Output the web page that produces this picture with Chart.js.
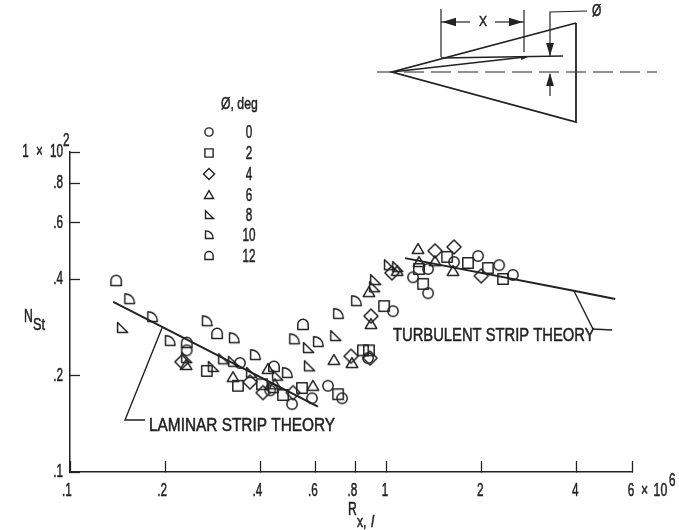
<!DOCTYPE html>
<html>
<head>
<meta charset="utf-8">
<script src="https://cdn.jsdelivr.net/npm/chart.js@4/dist/chart.umd.js"></script>
<style>
    body { margin: 0; background: #fff; }
    canvas { display: block; filter: blur(0.45px); }
</style>
</head>
<body>
<canvas id="stantonChart" width="679" height="530"></canvas>
<script>
// Axis ticks
const xTicks = [0.1, 0.2, 0.4, 0.6, 0.8, 1, 2, 4, 6];
const xTickLabels = [".1", ".2", ".4", ".6", ".8", "1", "2", "4", "6"];
const yTicks = [0.1, 0.2, 0.4, 0.6, 0.8, 1];
const yTickLabels = [".1", ".2", ".4", ".6", ".8", "1 \u00d7 10"];

// Sweep angles in the legend
const angles = ["0", "2", "4", "6", "8", "10", "12"];
const markers = ["circle", "square", "diamond", "triangle", "wedge", "dee", "dome"];

// Measured points, x is R(x,l) in units of 10^6, y is NSt in units of 10^2
const x0 = [0.234, 0.345, 0.43, 0.504, 0.583, 0.655, 0.726, 1.052, 0.877, 1.217, 1.358, 1.358, 1.641, 1.955, 2.28, 2.52];
const y0 = [0.24, 0.219, 0.18, 0.163, 0.17, 0.186, 0.17, 0.318, 0.227, 0.406, 0.431, 0.362, 0.453, 0.473, 0.443, 0.413];
const x2 = [0.271, 0.34, 0.405, 0.472, 0.542, 0.705, 0.845, 0.883, 0.986, 1.271, 1.31, 1.56, 1.816, 2.1, 2.345];
const y2 = [0.207, 0.186, 0.188, 0.174, 0.183, 0.175, 0.24, 0.24, 0.33, 0.431, 0.387, 0.47, 0.45, 0.434, 0.401];
const x4 = [0.226, 0.371, 0.408, 0.508, 0.775, 0.89, 0.896, 1.044, 1.429, 1.641, 2.0];
const y4 = [0.221, 0.191, 0.177, 0.177, 0.23, 0.227, 0.307, 0.419, 0.491, 0.505, 0.41];
const x6 = [0.233, 0.328, 0.423, 0.445, 0.587, 0.684, 0.78, 0.883, 0.896, 1.084, 1.262, 1.271, 1.429, 1.629];
const y6 = [0.216, 0.198, 0.21, 0.188, 0.186, 0.224, 0.219, 0.365, 0.29, 0.425, 0.498, 0.453, 0.456, 0.425];
const x8 = [0.146, 0.233, 0.283, 0.305, 0.328, 0.374, 0.452, 0.566, 0.57, 0.69, 0.923, 0.916, 1.021, 1.084];
const y8 = [0.282, 0.227, 0.213, 0.225, 0.221, 0.204, 0.2, 0.244, 0.214, 0.266, 0.398, 0.378, 0.443, 0.437];
const x10 = [0.154, 0.182, 0.207, 0.271, 0.33, 0.385, 0.439, 0.486, 0.512, 0.609, 0.705, 0.804];
const y10 = [0.347, 0.305, 0.257, 0.296, 0.262, 0.232, 0.183, 0.204, 0.26, 0.255, 0.312, 0.342];
const x12 = [0.14, 0.234, 0.292, 0.442, 0.546];
const y12 = [0.395, 0.253, 0.27, 0.213, 0.288];

// Strip theory curves
const laminarX = [0.137, 0.609];
const laminarY = [0.34, 0.16];
const turbulentX = [1.148, 3.96, 5.31];
const turbulentY = [0.466, 0.368, 0.347];

const ink = "#222";
const labelFont = '"Liberation Sans", sans-serif';

function pairs(xs, ys) {
    return xs.map((x, i) => ({ x: x, y: ys[i] }));
}

// Draws one marker outline centred on cx, cy
function traceMarker(ctx, kind, cx, cy, r) {
    ctx.beginPath();
    if (kind === "circle") {
        ctx.arc(cx, cy, r, 0, Math.PI * 2);
    } else if (kind === "square") {
        ctx.rect(cx - r, cy - r, r * 2, r * 2);
    } else if (kind === "diamond") {
        ctx.moveTo(cx, cy - r * 1.35);
        ctx.lineTo(cx + r * 1.35, cy);
        ctx.lineTo(cx, cy + r * 1.35);
        ctx.lineTo(cx - r * 1.35, cy);
        ctx.closePath();
    } else if (kind === "triangle") {
        ctx.moveTo(cx, cy - r * 1.05);
        ctx.lineTo(cx + r * 1.1, cy + r * 0.85);
        ctx.lineTo(cx - r * 1.1, cy + r * 0.85);
        ctx.closePath();
    } else if (kind === "wedge") {
        ctx.moveTo(cx - r * 0.85, cy - r * 1.05);
        ctx.lineTo(cx + r * 1.1, cy + r * 0.85);
        ctx.lineTo(cx - r * 0.85, cy + r * 0.85);
        ctx.closePath();
    } else if (kind === "dee") {
        ctx.moveTo(cx - r * 0.85, cy - r);
        ctx.bezierCurveTo(cx + r * 0.3, cy - r, cx + r, cy - r * 0.2, cx + r, cy + r * 0.85);
        ctx.lineTo(cx - r * 0.85, cy + r * 0.85);
        ctx.closePath();
    } else if (kind === "dome") {
        ctx.moveTo(cx - r, cy + r * 0.85);
        ctx.lineTo(cx - r, cy - r * 0.1);
        ctx.arc(cx, cy - r * 0.1, r, Math.PI, 0);
        ctx.lineTo(cx + r, cy + r * 0.85);
        ctx.closePath();
    }
    ctx.stroke();
}

// Chart.js can take a canvas as a pointStyle
function markerImage(kind) {
    const c = document.createElement("canvas");
    c.width = 20;
    c.height = 20;
    const ctx = c.getContext("2d");
    ctx.strokeStyle = ink;
    ctx.lineWidth = 1.5;
    ctx.lineJoin = "round";
    traceMarker(ctx, kind, 10, 10, 5.2);
    return c;
}

function series(label, xs, ys, kind) {
    return {
        label: label,
        data: pairs(xs, ys),
        showLine: false,
        pointStyle: markerImage(kind),
        pointRadius: 10,
        pointBorderColor: ink,
        pointBackgroundColor: "transparent"
    };
}

function theory(label, xs, ys) {
    return {
        label: label,
        data: pairs(xs, ys),
        showLine: true,
        borderColor: ink,
        borderWidth: 2,
        pointRadius: 0,
        tension: 0
    };
}

// The reference lettering is condensed and heavy, so squeeze it and thicken it a little
function text(ctx, str, x, y, size, squeeze, style, gap) {
    ctx.save();
    ctx.translate(x, y);
    ctx.scale(squeeze, 1);
    ctx.font = (style || "") + " " + size + "px " + labelFont;
    ctx.wordSpacing = (gap || 0) + "px";
    ctx.lineWidth = 0.5;
    ctx.fillText(str, 0, 0);
    ctx.strokeText(str, 0, 0);
    ctx.restore();
}

function seg(ctx, pts, width) {
    ctx.lineWidth = width;
    ctx.beginPath();
    pts.forEach((p, i) => i ? ctx.lineTo(p[0], p[1]) : ctx.moveTo(p[0], p[1]));
    ctx.stroke();
}

function arrow(ctx, tipX, tipY, dx, dy) {
    // dx, dy points back from the tip along the shaft
    const nx = -dy * 0.3, ny = dx * 0.3;
    ctx.beginPath();
    ctx.moveTo(tipX, tipY);
    ctx.lineTo(tipX + dx + nx, tipY + dy + ny);
    ctx.lineTo(tipX + dx - nx, tipY + dy - ny);
    ctx.closePath();
    ctx.fill();
}

// Annotations that are not data: tick text, legend, labels, leaders and the wing sketch
const annotations = {
    id: "annotations",
    afterDraw(chart) {
        const ctx = chart.ctx;
        const xScale = chart.scales.x;
        const yScale = chart.scales.y;
        ctx.save();
        ctx.fillStyle = ink;
        ctx.strokeStyle = ink;
        ctx.textBaseline = "middle";

        // Tick text
        ctx.textAlign = "center";
        xTicks.forEach((v, i) => {
            const shift = xTickLabels[i][0] === "." ? -3 : -1;
            text(ctx, xTickLabels[i], xScale.getPixelForValue(v) + shift, 491, 18, 0.65);
        });
        ctx.textAlign = "right";
        yTicks.forEach((v, i) => {
            text(ctx, yTickLabels[i], 63, yScale.getPixelForValue(v), 18, 0.65, "", 6);
        });
        ctx.textAlign = "left";
        text(ctx, "2", 63, 141, 18, 0.65);
        text(ctx, "\u00d7 10", 641, 491, 18, 0.68, "", 3);
        text(ctx, "6", 669, 481, 18, 0.65);

        // Legend
        text(ctx, "\u00d8, deg", 221, 104, 17, 0.72);
        const legendY = [132, 153, 174, 195, 215, 235, 256];
        angles.forEach((a, i) => {
            ctx.lineWidth = 1.4;
            traceMarker(ctx, markers[i], 209, legendY[i], 4.1);
            ctx.textAlign = "center";
            text(ctx, a, 249, legendY[i] + 1, 18, 0.65);
            ctx.textAlign = "left";
        });

        // Axis names
        text(ctx, "N", 24, 317, 18, 0.68);
        text(ctx, "St", 33, 325, 17, 0.75);
        text(ctx, "R", 348, 510, 18, 0.68);
        text(ctx, "x, ", 357, 522, 17, 0.72);
        text(ctx, "l", 371, 522, 17, 0.8, "italic");

        // Curve labels and leaders
        text(ctx, "LAMINAR STRIP THEORY", 149, 426, 18, 0.855);
        text(ctx, "TURBULENT STRIP THEORY", 393, 336, 18, 0.82);
        seg(ctx, [[162, 328], [125, 420], [145, 420]], 1.4);
        seg(ctx, [[574, 291], [593, 329], [612, 330]], 1.4);

        // Wing sketch
        seg(ctx, [[576, 23], [392, 72], [576, 122], [576, 23]], 1.8);
        ctx.setLineDash([20, 7]);
        seg(ctx, [[377, 72], [657, 72]], 1.2);
        ctx.setLineDash([]);
        seg(ctx, [[441, 58], [563, 56]], 1.3);
        seg(ctx, [[392, 72], [525, 57]], 1.3);
        arrow(ctx, 528, 57, -7, 1);
        seg(ctx, [[441, 9], [441, 57]], 1.2);
        seg(ctx, [[524, 10], [524, 52]], 1.2);
        seg(ctx, [[441, 22], [470, 22]], 1.2);
        seg(ctx, [[495, 22], [524, 22]], 1.2);
        arrow(ctx, 442, 22, 14, 0);
        arrow(ctx, 523, 22, -14, 0);
        ctx.textAlign = "center";
        text(ctx, "X", 483, 22, 15, 0.8);
        ctx.textAlign = "left";
        seg(ctx, [[587, 11], [550, 12], [550, 56]], 1.2);
        arrow(ctx, 550, 56, 0, -13);
        seg(ctx, [[550, 74], [550, 96]], 1.2);
        arrow(ctx, 550, 73, 0, 13);
        text(ctx, "\u00d8", 592, 12, 16, 0.75);

        ctx.restore();
    }
};

const ctx = document.getElementById("stantonChart").getContext("2d");
new Chart(ctx, {
    type: "scatter",
    data: {
        datasets: [
            series("0", x0, y0, markers[0]),
            series("2", x2, y2, markers[1]),
            series("4", x4, y4, markers[2]),
            series("6", x6, y6, markers[3]),
            series("8", x8, y8, markers[4]),
            series("10", x10, y10, markers[5]),
            series("12", x12, y12, markers[6]),
            theory("Laminar strip theory", laminarX, laminarY),
            theory("Turbulent strip theory", turbulentX, turbulentY)
        ]
    },
    options: {
        responsive: false,
        animation: false,
        layout: { padding: { top: 152, right: 47, left: 0, bottom: 0 } },
        plugins: { legend: { display: false }, tooltip: { enabled: false } },
        scales: {
            x: {
                type: "logarithmic",
                min: 0.1,
                max: 6,
                afterFit(scale) { scale.height = 58; },
                afterBuildTicks(scale) { scale.ticks = xTicks.map(v => ({ value: v })); },
                border: { color: ink, width: 1.5 },
                grid: { drawOnChartArea: false, tickLength: -11, tickWidth: 1.3, tickColor: ink },
                ticks: { display: false }
            },
            y: {
                type: "logarithmic",
                min: 0.1,
                max: 1,
                afterFit(scale) { scale.width = 70; },
                afterBuildTicks(scale) { scale.ticks = yTicks.map(v => ({ value: v })); },
                border: { color: ink, width: 1.5 },
                grid: { drawOnChartArea: false, tickLength: -10, tickWidth: 1.3, tickColor: ink },
                ticks: { display: false }
            }
        }
    },
    plugins: [annotations]
});
</script>
</body>
</html>
